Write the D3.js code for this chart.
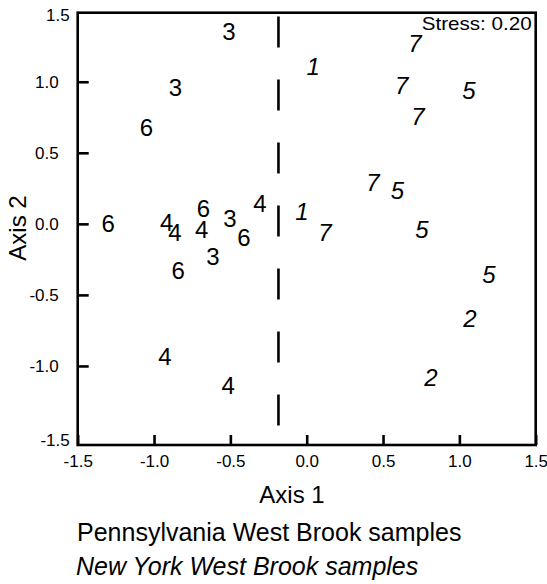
<!DOCTYPE html>
<html>
<head>
<meta charset="utf-8">
<script src="https://cdn.jsdelivr.net/npm/d3@7"></script>
<style>
  body { margin: 0; background: #fff; }
  text { font-family: Arial, "Liberation Sans", sans-serif; fill: #000; }
</style>
</head>
<body>
<div class="canvas"></div>
<script>
// Pennsylvania samples (upright labels)
const paAxis1 = [-0.509, -0.859, -1.049, -1.30, -0.917, -0.863, -0.676, -0.688, -0.502, -0.411, -0.614, -0.841, -0.306, -0.928, -0.514];
const paAxis2 = [1.354, 0.958, 0.676, 0.0, 0.007, -0.06, 0.106, -0.042, 0.042, -0.095, -0.232, -0.33, 0.141, -0.93, -1.137];
const paLabels = ['3', '3', '6', '6', '4', '4', '6', '4', '3', '6', '3', '6', '4', '4', '4'];

// New York samples (italic labels)
const nyAxis1 = [0.043, 0.709, 0.622, 1.063, 0.729, 0.434, 0.595, -0.031, 0.12, 0.755, 1.194, 1.07, 0.814];
const nyAxis2 = [1.106, 1.268, 0.973, 0.937, 0.754, 0.292, 0.239, 0.087, -0.063, -0.039, -0.359, -0.662, -1.081];
const nyLabels = ['1', '7', '7', '5', '7', '7', '5', '1', '7', '5', '5', '2', '2'];

const tickValues = [-1.5, -1.0, -0.5, 0.0, 0.5, 1.0, 1.5];
const splitAxis1 = -0.185; // dashed divider
const stress = 'Stress: 0.20';

const fmt = d => d.toFixed(1); // plain hyphen, not unicode minus

const svg = d3.select('.canvas')
  .append('svg')
    .attr('width', 547)
    .attr('height', 584);

svg.append('rect').attr('width', 547).attr('height', 584).attr('fill', '#fff');

// plot box
const margin = {top: 12.7, left: 77.7};
const graphWidth = 458;
const graphHeight = 432.3;

const graph = svg.append('g')
  .attr('transform', `translate(${margin.left}, ${margin.top})`);

const x = d3.scaleLinear()
  .domain([-1.5, 1.5])
  .range([0, graphWidth]);

const y = d3.scaleLinear()
  .domain([-1.5, 1.5])
  .range([424.3, -2]);

const toPoints = (xs, ys, labels) => xs.map((v, i) => ({a1: v, a2: ys[i], label: labels[i]}));
const pa = toPoints(paAxis1, paAxis2, paLabels);
const ny = toPoints(nyAxis1, nyAxis2, nyLabels);

// dashed vertical divider
graph.append('line')
  .attr('x1', x(splitAxis1)).attr('x2', x(splitAxis1))
  .attr('y1', y(1.46)).attr('y2', y(-1.43))
  .attr('stroke', '#000')
  .attr('stroke-width', 2.6)
  .attr('stroke-dasharray', '31,32');

// axes with inward ticks
const xAxis = d3.axisBottom(x)
  .tickValues(tickValues)
  .tickSize(-10)
  .tickFormat(fmt);

const yAxis = d3.axisLeft(y)
  .tickValues(tickValues.slice(1, -1))
  .tickSize(-11)
  .tickPadding(19)
  .tickFormat(fmt);

const xAxisGroup = graph.append('g')
  .attr('transform', `translate(0, ${graphHeight})`)
  .call(xAxis);

const yAxisGroup = graph.append('g').call(yAxis);

[xAxisGroup, yAxisGroup].forEach(g => {
  g.select('.domain').remove();
  g.selectAll('line').attr('stroke', '#000').attr('stroke-width', 2.6);
  g.selectAll('text')
    .attr('font-size', 17)
    .attr('font-family', 'Arial, "Liberation Sans", sans-serif')
    .attr('fill', '#000');
});
xAxisGroup.selectAll('text').attr('dy', '0.71em').attr('y', 10);

// extreme y labels sit at the frame corners
graph.append('g').selectAll('text')
  .data([1.5, -1.5])
  .enter().append('text')
    .attr('x', -8)
    .attr('y', d => d > 0 ? 2.5 : 427.5)
    .attr('dy', '0.35em')
    .attr('text-anchor', 'end')
    .attr('font-size', 17)
    .text(fmt);

// frame
graph.append('rect')
  .attr('width', graphWidth)
  .attr('height', graphHeight)
  .attr('fill', 'none')
  .attr('stroke', '#000')
  .attr('stroke-width', 2.6);

// sample labels
graph.selectAll('text.pa')
  .data(pa)
  .enter().append('text')
    .attr('class', 'pa')
    .attr('x', d => x(d.a1))
    .attr('y', d => y(d.a2))
    .attr('dy', '0.36em')
    .attr('text-anchor', 'middle')
    .attr('font-size', 24)
    .text(d => d.label);

graph.selectAll('text.ny')
  .data(ny)
  .enter().append('text')
    .attr('class', 'ny')
    .attr('x', d => x(d.a1))
    .attr('y', d => y(d.a2))
    .attr('dy', '0.36em')
    .attr('text-anchor', 'middle')
    .attr('font-style', 'italic')
    .attr('font-size', 24)
    .text(d => d.label);

graph.append('text')
  .attr('x', graphWidth - 4)
  .attr('y', 17)
  .attr('text-anchor', 'end')
  .attr('font-size', 19)
  .attr('textLength', 110)
  .attr('lengthAdjust', 'spacingAndGlyphs')
  .text(stress);

// axis titles
svg.append('text')
  .attr('x', 292)
  .attr('y', 503)
  .attr('text-anchor', 'middle')
  .attr('font-size', 24)
  .text('Axis 1');

svg.append('text')
  .attr('transform', 'translate(26, 228) rotate(-90)')
  .attr('text-anchor', 'middle')
  .attr('font-size', 24)
  .text('Axis 2');

// legend lines
svg.append('text')
  .attr('x', 77)
  .attr('y', 541)
  .attr('font-size', 25)
  .text('Pennsylvania West Brook samples');

svg.append('text')
  .attr('x', 76)
  .attr('y', 575)
  .attr('font-size', 25)
  .attr('font-style', 'italic')
  .text('New York West Brook samples');
</script>
</body>
</html>
